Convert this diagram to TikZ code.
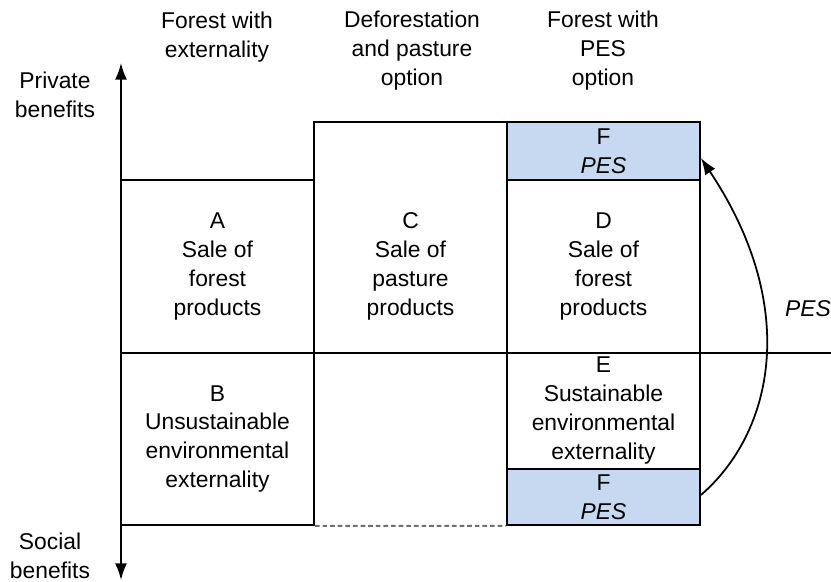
\documentclass[tikz,border=0pt]{standalone}
\usepackage{fontspec}
\setmainfont{Liberation Sans}
\usetikzlibrary{positioning, arrows.meta}
\definecolor{pesblue}{HTML}{C6D9F1}
\definecolor{dashgray}{HTML}{707070}
\tikzset{
  box/.style={draw, line width=1.5pt, minimum width=5.79cm, inner sep=0pt, align=center},
  lbl/.style={align=center, inner sep=0pt},
  tip/.style={-{Latex[length=0.5cm, width=0.36cm]}}
}

\begin{document}
\begin{tikzpicture}[x=0.03cm, y=-0.03cm, font=\fontsize{19.5}{24.75}\selectfont]
      \useasboundingbox (0,0) rectangle (831,582);
      \coordinate (top) at (121,63);
      \coordinate (bottom) at (121,580);
      \coordinate (o) at (121,353);
      \coordinate (right) at (831,353);
      \node[box, minimum height=5.19cm] (A) at (217.5,266.5) {A\\Sale of\\forest\\products};
      \node[box, minimum height=5.16cm] (B) at (217.5,439) {B\\Unsustainable\\environmental\\externality};
      \node[box, minimum height=6.93cm] (C) at (410.5,237.5) {};
      \node[lbl] (Ct) at (410.5,266.5) {C\\Sale of\\pasture\\products};
      \node[box, fill=pesblue, minimum height=1.74cm] (F1) at (603.5,151) {F\\\textit{PES}};
      \node[box, minimum height=5.19cm] (D) at (603.5,266.5) {D\\Sale of\\forest\\products};
      \node[box, minimum height=3.48cm] (E) at (603.5,411) {E\\Sustainable\\environmental\\externality};
      \node[box, fill=pesblue, minimum height=1.68cm] (F2) at (603.5,497) {F\\\textit{PES}};
      \draw[line width=1.5pt] (o) -- (right);
      \draw[line width=1.5pt, tip] (o) -- (top);
      \draw[line width=1.5pt, tip] (o) -- (bottom);
      \draw[line width=1.6pt, dashgray, dash pattern=on 4pt off 2.5pt] (B.south east) -- (F2.south west);
      \draw[line width=1.5pt, tip] ([yshift=0.06cm]F2.east) .. controls +(72,-62) and +(100,150) .. ([yshift=-0.21cm]F1.east);
      \node[lbl] (pes) at (808,309) {\textit{PES}};
      \node[lbl] (h1) at (217,37.5) {Forest with\\externality};
      \node[lbl] (h2) at (412,51) {Deforestation\\and pasture\\option};
      \node[lbl] (h3) at (603,51) {Forest with\\PES\\option};
      \node[lbl] (priv) at (55,95) {Private\\benefits};
      \node[lbl] (soc) at (50,555.5) {Social\\benefits};
    \end{tikzpicture}
\end{document}
